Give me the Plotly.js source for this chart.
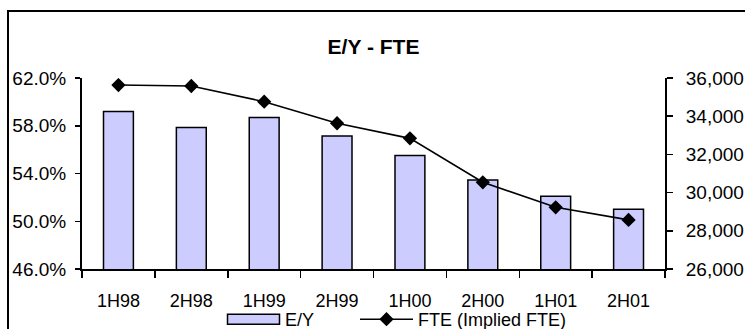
<!DOCTYPE html>
<html><head><meta charset="utf-8">
<script src="https://cdn.plot.ly/plotly-3.0.1.min.js"></script>
<style>
html,body{margin:0;padding:0;background:#fff;overflow:hidden;}
#wrap{position:relative;width:745px;height:329px;}
#chart{position:absolute;left:0;top:0;width:745px;height:329px;}
#frame{position:absolute;left:7px;top:10px;width:800px;height:400px;border-left:2px solid #000;border-top:2px solid #000;pointer-events:none;}
</style></head>
<body><div id="wrap"><div id="chart"></div><div id="frame"></div></div>
<script>
var periods = ["1H98","2H98","1H99","2H99","1H00","2H00","1H01","2H01"];
var eyValues = [59.2, 57.85, 58.7, 57.15, 55.5, 53.45, 52.1, 51.0];
var fteValues = [35630, 35580, 34760, 33630, 32840, 30540, 29230, 28570];
var leftTicks = [46, 50, 54, 58, 62];
var rightTicks = [26000, 28000, 30000, 32000, 34000, 36000];

var fam = "Liberation Sans, Arial, sans-serif";
var font18 = {family: fam, size: 18, color: "#000"};
var font19 = {family: fam, size: 19, color: "#000"};

var traces = [
  {type: "bar", x: periods, y: eyValues, name: "E/Y", width: 0.41, legend: "legend",
   marker: {color: "#ccccff", line: {color: "#000", width: 1.5}}, xaxis: "x", yaxis: "y"},
  {type: "scatter", mode: "lines+markers", x: periods, y: fteValues, name: "FTE (Implied FTE)", legend: "legend2",
   line: {color: "#000", width: 1.6}, marker: {symbol: "diamond", size: 11, color: "#000"},
   xaxis: "x", yaxis: "y2"}
];

var plotW = 745 - 82 - 80;
var legendBase = {orientation: "h", xanchor: "left", y: (269 - 301) / 191, yanchor: "top",
  font: font18, itemwidth: 53, bgcolor: "rgba(0,0,0,0)", borderwidth: 0};

var layout = {
  width: 745, height: 329,
  margin: {l: 82, r: 80, t: 78, b: 60, pad: 0, autoexpand: false},
  paper_bgcolor: "#fff", plot_bgcolor: "#fff",
  font: font18,
  showlegend: true,
  title: {text: "<b>E/Y - FTE</b>", font: {family: fam, size: 21, color: "#000"},
          x: 0.5, xref: "paper", xanchor: "center", y: 1 - 47/329, yref: "container", yanchor: "middle"},
  xaxis: {type: "category", categoryarray: periods, range: [-0.5, 7.5], showgrid: false, zeroline: false,
          showline: true, linecolor: "#000", linewidth: 2, ticks: "outside", tickson: "boundaries",
          ticklen: 7, tickwidth: 1.5, tickcolor: "#000", ticklabelstandoff: 14, tickfont: font18},
  xaxis2: {type: "linear", overlaying: "x", anchor: "y", range: [-0.5, 7.5], tickmode: "linear", tick0: -0.5, dtick: 1,
           showticklabels: false, showgrid: false, zeroline: false, showline: false,
           ticks: "inside", ticklen: 6, tickwidth: 1.5, tickcolor: "#000", side: "bottom"},
  yaxis: {range: [46, 62], tickmode: "array", tickvals: leftTicks, ticktext: leftTicks.map(function(v){return v.toFixed(1)+"%";}),
          showgrid: false, zeroline: false, showline: true, linecolor: "#000", linewidth: 2,
          ticks: "outside", ticklen: 5, tickwidth: 1.5, tickcolor: "#000", ticklabelstandoff: 5, tickfont: font19},
  yaxis2: {range: [26000, 36000], overlaying: "y", side: "right", anchor: "x", tickmode: "array", tickvals: rightTicks,
           ticktext: rightTicks.map(function(v){return v.toLocaleString("en-US");}),
           showgrid: false, zeroline: false, showline: true, linecolor: "#000", linewidth: 2,
           ticks: "outside", ticklen: 6, tickwidth: 1.5, tickcolor: "#000", ticklabelstandoff: 9, tickfont: font19},
  yaxis3: {range: [46, 62], overlaying: "y", side: "left", anchor: "x", tickmode: "array", tickvals: leftTicks,
           showticklabels: false, showgrid: false, zeroline: false, showline: false,
           ticks: "inside", ticklen: 5, tickwidth: 1.5, tickcolor: "#000"},
  yaxis4: {range: [26000, 36000], overlaying: "y", side: "right", anchor: "x", tickmode: "array", tickvals: rightTicks,
           showticklabels: false, showgrid: false, zeroline: false, showline: false,
           ticks: "inside", ticklen: 6, tickwidth: 1.5, tickcolor: "#000"},
  legend: Object.assign({}, legendBase, {x: (222 - 82) / plotW}),
  legend2: Object.assign({}, legendBase, {x: (355 - 82) / plotW})
};

function widenSwatch(){
  document.querySelectorAll("g.legendpoints path").forEach(function(p){
    if (p.getAttribute("d") === "M6,6H-6V-6H6Z") p.setAttribute("d", "M26,5H-26V-5H26Z");
  });
}
Plotly.newPlot("chart", traces, layout, {staticPlot: true, displayModeBar: false}).then(function(){
  widenSwatch();
  setTimeout(widenSwatch, 0);
});
</script></body></html>
